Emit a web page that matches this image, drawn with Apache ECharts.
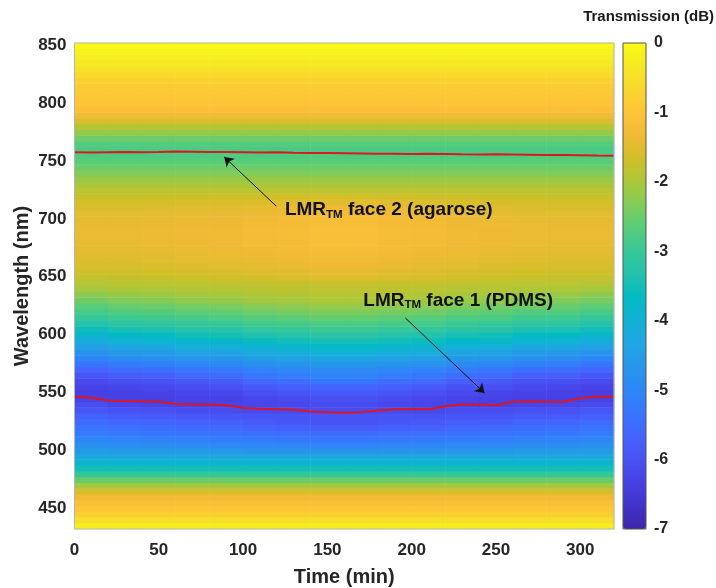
<!DOCTYPE html>
<html>
<head>
<meta charset="utf-8">
<script src="https://cdn.jsdelivr.net/npm/echarts@6/dist/echarts.min.js"></script>
<style>html,body{margin:0;padding:0;background:#fff;}#c{width:716px;height:588px;}</style>
</head>
<body>
<div id="c"></div>
<script>
// ---- data ----
const timeCols = [10, 30, 50, 70, 90, 110, 130, 150, 170, 190, 210, 230, 250, 270, 290, 310];
const wavelengthRows = [434.5,439.5,444.5,449.5,454.5,459.5,464.5,469.5,474.5,479.5,
484.5,489.5,494.5,499.5,504.5,509.5,514.5,519.5,524.5,529.5,
534.5,539.5,544.5,549.5,554.5,559.5,564.5,569.5,574.5,579.5,
584.5,589.5,594.5,599.5,604.5,609.5,614.5,619.5,624.5,629.5,
634.5,639.5,644.5,649.5,654.5,659.5,664.5,669.5,674.5,679.5,
684.5,689.5,694.5,699.5,704.5,709.5,714.5,719.5,724.5,729.5,
734.5,739.5,744.5,749.5,754.5,759.5,764.5,769.5,774.5,779.5,
784.5,789.5,794.5,799.5,804.5,809.5,814.5,819.5,824.5,829.5,
834.5,839.5,844.5,849.5];
// transmission (dB), rows 434.5–494.5 nm: same at every time
const transmissionLowBand = [-0.25,-0.5,-0.75,-0.95,-1.1,-1.3,-1.6,-2.05,-2.55,-3.05,-3.5,-3.9,-4.25];
// transmission (dB), rows 499.5–719.5 nm: one value per time column
const transmissionMidBand = [
[-4.55,-4.59,-4.6,-4.63,-4.65,-4.69,-4.71,-4.73,-4.73,-4.71,-4.69,-4.66,-4.64,-4.6,-4.6,-4.56],
[-4.8,-4.85,-4.87,-4.91,-4.93,-4.98,-5.01,-5.04,-5.04,-5.01,-4.99,-4.94,-4.92,-4.87,-4.86,-4.81],
[-5.0,-5.07,-5.1,-5.15,-5.18,-5.24,-5.27,-5.3,-5.3,-5.27,-5.25,-5.2,-5.17,-5.1,-5.08,-5.01],
[-5.2,-5.26,-5.29,-5.34,-5.37,-5.43,-5.47,-5.51,-5.51,-5.47,-5.44,-5.38,-5.35,-5.29,-5.28,-5.21],
[-5.35,-5.43,-5.46,-5.52,-5.56,-5.66,-5.72,-5.78,-5.78,-5.72,-5.68,-5.58,-5.54,-5.46,-5.44,-5.37],
[-5.5,-5.6,-5.64,-5.72,-5.76,-5.86,-5.92,-5.98,-5.98,-5.92,-5.88,-5.78,-5.74,-5.64,-5.62,-5.52],
[-5.7,-5.8,-5.84,-5.89,-5.91,-5.96,-5.97,-5.98,-5.98,-5.97,-5.98,-5.92,-5.91,-5.84,-5.82,-5.72],
[-5.9,-6.0,-6.04,-6.09,-6.11,-6.16,-6.15,-6.12,-6.12,-6.15,-6.18,-6.12,-6.11,-6.04,-6.02,-5.92],
[-6.1,-6.2,-6.24,-6.28,-6.27,-6.24,-6.2,-6.13,-6.13,-6.2,-6.25,-6.26,-6.28,-6.24,-6.22,-6.12],
[-6.3,-6.33,-6.34,-6.32,-6.29,-6.21,-6.14,-6.04,-6.04,-6.14,-6.21,-6.27,-6.31,-6.34,-6.33,-6.31],
[-6.35,-6.33,-6.32,-6.26,-6.21,-6.08,-5.98,-5.87,-5.87,-5.98,-6.07,-6.18,-6.24,-6.32,-6.32,-6.35],
[-6.3,-6.23,-6.2,-6.1,-6.04,-5.89,-5.77,-5.63,-5.63,-5.77,-5.87,-6.01,-6.08,-6.2,-6.21,-6.29],
[-6.15,-6.05,-6.01,-5.89,-5.81,-5.61,-5.47,-5.33,-5.33,-5.47,-5.58,-5.77,-5.86,-6.01,-6.03,-6.13],
[-5.95,-5.8,-5.74,-5.59,-5.51,-5.31,-5.17,-5.03,-5.03,-5.17,-5.28,-5.47,-5.56,-5.74,-5.77,-5.92],
[-5.65,-5.5,-5.44,-5.32,-5.26,-5.11,-5.02,-4.93,-4.93,-5.02,-5.08,-5.23,-5.29,-5.44,-5.47,-5.62],
[-5.35,-5.2,-5.14,-5.02,-4.96,-4.81,-4.72,-4.63,-4.63,-4.72,-4.78,-4.93,-4.99,-5.14,-5.17,-5.32],
[-5.05,-4.9,-4.84,-4.72,-4.66,-4.51,-4.42,-4.33,-4.33,-4.42,-4.48,-4.63,-4.69,-4.84,-4.87,-5.02],
[-4.75,-4.6,-4.54,-4.42,-4.36,-4.21,-4.12,-4.03,-4.03,-4.12,-4.18,-4.33,-4.39,-4.54,-4.57,-4.72],
[-4.45,-4.3,-4.24,-4.12,-4.06,-3.91,-3.82,-3.73,-3.73,-3.82,-3.88,-4.03,-4.09,-4.24,-4.27,-4.42],
[-4.15,-4.0,-3.94,-3.82,-3.76,-3.61,-3.53,-3.45,-3.45,-3.53,-3.58,-3.73,-3.79,-3.94,-3.97,-4.12],
[-3.85,-3.7,-3.64,-3.53,-3.48,-3.35,-3.28,-3.2,-3.2,-3.28,-3.33,-3.45,-3.5,-3.64,-3.67,-3.82],
[-3.55,-3.43,-3.38,-3.28,-3.23,-3.1,-3.03,-2.97,-2.97,-3.03,-3.08,-3.2,-3.25,-3.38,-3.4,-3.53],
[-3.3,-3.18,-3.13,-3.03,-2.99,-2.89,-2.83,-2.77,-2.77,-2.83,-2.87,-2.97,-3.01,-3.13,-3.15,-3.28],
[-3.05,-2.95,-2.91,-2.83,-2.79,-2.69,-2.63,-2.57,-2.57,-2.63,-2.67,-2.77,-2.81,-2.91,-2.93,-3.03],
[-2.85,-2.75,-2.71,-2.63,-2.59,-2.49,-2.43,-2.37,-2.37,-2.43,-2.47,-2.57,-2.61,-2.71,-2.73,-2.83],
[-2.65,-2.55,-2.51,-2.43,-2.39,-2.29,-2.23,-2.17,-2.17,-2.23,-2.27,-2.37,-2.41,-2.51,-2.53,-2.63],
[-2.45,-2.35,-2.31,-2.23,-2.19,-2.09,-2.04,-1.99,-1.99,-2.04,-2.07,-2.17,-2.21,-2.31,-2.33,-2.43],
[-2.25,-2.16,-2.13,-2.06,-2.03,-1.97,-1.93,-1.9,-1.9,-1.93,-1.96,-2.02,-2.05,-2.13,-2.15,-2.23],
[-2.05,-2.0,-1.98,-1.93,-1.91,-1.87,-1.84,-1.82,-1.82,-1.84,-1.86,-1.9,-1.92,-1.98,-1.99,-2.04],
[-1.9,-1.87,-1.86,-1.83,-1.82,-1.79,-1.77,-1.76,-1.76,-1.77,-1.79,-1.82,-1.83,-1.86,-1.86,-1.89],
[-1.78,-1.77,-1.74,-1.7,-1.66,-1.61,-1.56,-1.51,-1.51,-1.56,-1.6,-1.66,-1.7,-1.74,-1.76,-1.78],
[-1.68,-1.68,-1.65,-1.62,-1.58,-1.53,-1.48,-1.43,-1.43,-1.48,-1.53,-1.58,-1.63,-1.66,-1.68,-1.68],
[-1.6,-1.6,-1.57,-1.54,-1.5,-1.45,-1.4,-1.35,-1.35,-1.4,-1.45,-1.5,-1.55,-1.58,-1.6,-1.6],
[-1.53,-1.53,-1.5,-1.47,-1.43,-1.38,-1.33,-1.28,-1.28,-1.33,-1.38,-1.43,-1.48,-1.51,-1.53,-1.53],
[-1.48,-1.48,-1.45,-1.42,-1.38,-1.33,-1.28,-1.23,-1.23,-1.28,-1.33,-1.38,-1.43,-1.46,-1.48,-1.48],
[-1.45,-1.45,-1.42,-1.39,-1.35,-1.3,-1.25,-1.2,-1.2,-1.25,-1.3,-1.35,-1.4,-1.43,-1.45,-1.45],
[-1.42,-1.42,-1.39,-1.36,-1.32,-1.27,-1.22,-1.17,-1.17,-1.22,-1.27,-1.32,-1.37,-1.4,-1.42,-1.42],
[-1.4,-1.4,-1.37,-1.34,-1.3,-1.25,-1.2,-1.15,-1.15,-1.2,-1.25,-1.3,-1.35,-1.38,-1.4,-1.4],
[-1.4,-1.4,-1.37,-1.34,-1.3,-1.25,-1.2,-1.15,-1.15,-1.2,-1.25,-1.3,-1.35,-1.38,-1.4,-1.4],
[-1.42,-1.42,-1.39,-1.36,-1.32,-1.27,-1.22,-1.17,-1.17,-1.22,-1.27,-1.32,-1.37,-1.4,-1.42,-1.42],
[-1.45,-1.45,-1.42,-1.39,-1.35,-1.3,-1.25,-1.2,-1.2,-1.25,-1.3,-1.35,-1.4,-1.43,-1.45,-1.45],
[-1.5,-1.5,-1.47,-1.45,-1.41,-1.36,-1.32,-1.27,-1.27,-1.32,-1.36,-1.41,-1.45,-1.48,-1.5,-1.5],
[-1.56,-1.56,-1.54,-1.51,-1.48,-1.44,-1.4,-1.36,-1.36,-1.4,-1.44,-1.48,-1.52,-1.54,-1.56,-1.56],
[-1.64,-1.64,-1.62,-1.6,-1.58,-1.55,-1.52,-1.49,-1.49,-1.52,-1.55,-1.58,-1.61,-1.63,-1.64,-1.64],
[-1.74,-1.74,-1.73,-1.72,-1.7,-1.68,-1.66,-1.64,-1.64,-1.66,-1.68,-1.7,-1.72,-1.73,-1.74,-1.74]
];
// transmission (dB), rows 724.5–849.5 nm: same at every time
const transmissionHighBand = [-1.86,-2.0,-2.17,-2.33,-2.5,-2.65,-2.75,-2.8,-2.7,-2.5,-2.2,-1.9,-1.6,-1.3,-1.1,-1.0,-0.95,-0.9,-0.85,-0.75,-0.6,-0.45,-0.35,-0.25,-0.15,-0.05];
const lineTimes = [0,10,20,30,40,50,60,70,80,90,100,110,120,130,140,150,160,170,180,190,200,210,220,230,240,250,260,270,280,290,300,310,320];
const face2Wavelength = [757.5,757.4,757.6,757.8,757.6,757.8,758.2,758,757.8,757.7,757.6,757.4,757.5,757.2,757,757,756.8,756.6,756.3,756.2,756,756.2,756,755.8,755.7,755.8,755.6,755.4,755.2,755.2,755,754.7,754.5];
const face1Wavelength = [546.5,545.5,543,542.5,542.5,542,540,539.5,539.5,539,536.5,536,535.5,535,533.5,533,532.5,533,534.5,535.5,535.5,535.5,538,539.5,539.5,539,542,542.5,542,542,545,546.5,546];
const timeTicks = [0, 50, 100, 150, 200, 250, 300];
const wavelengthTicks = [450, 500, 550, 600, 650, 700, 750, 800, 850];
const colorRange = [-7, 0];
// annotation anchors (data units)
const arrowFace2 = [[119.7, 711], [88.8, 753.5]];
const arrowFace1 = [[196.3, 614.3], [243.2, 549.5]];
const labelFace2 = [124.5, 707.5];
const labelFace1 = [171, 629.5];

const parula = ['#3e26a8','#4332cb','#4741e5','#4852f4','#4563fd','#3875fe','#2e87f7','#2796eb','#20a5e3','#12b1d6','#02bac3','#24c1ae','#37c897','#57cc7a','#81cc59','#abc739','#d1bf27','#f0ba36','#fec338','#fad62d','#f5e924','#f9fb15'];

const FONT = '"Liberation Sans", Arial, sans-serif';
const nLow = transmissionLowBand.length, nMid = transmissionMidBand.length;
const heatData = [];
for (let i = 0; i < wavelengthRows.length; i++) {
  for (let j = 0; j < timeCols.length; j++) {
    let v;
    if (i < nLow) v = transmissionLowBand[i];
    else if (i < nLow + nMid) v = transmissionMidBand[i - nLow][j];
    else v = transmissionHighBand[i - nLow - nMid];
    heatData.push([j, i, v]);
  }
}
const pairs = (xs, ys) => xs.map((x, k) => [x, ys[k]]);
const richText = {
  m: {fontFamily: FONT, fontSize: 19, fontWeight: 'bold', color: '#111'},
  s: {fontFamily: FONT, fontSize: 11.5, fontWeight: 'bold', color: '#111', padding: [9, 0, 0, 0]}
};
function annot(arrow, pos, txt) {
  return {
    markLine: {
      silent: true, symbol: ['none', 'arrow'], symbolSize: 9,
      lineStyle: {color: '#111', width: 1, type: 'solid'},
      label: {show: false},
      data: [[{coord: arrow[0]}, {coord: arrow[1]}]]
    },
    markPoint: {
      silent: true, symbol: 'circle', symbolSize: 1,
      itemStyle: {color: 'rgba(0,0,0,0)'},
      label: {show: true, position: 'right', distance: 0, formatter: '{m|LMR}{s|TM}{m| ' + txt + '}', rich: richText},
      data: [{coord: pos}]
    }
  };
}

const labelStyle = {fontFamily: FONT, fontSize: 17, fontWeight: 'bold', color: '#262626'};
const nameStyle = {fontFamily: FONT, fontSize: 20, fontWeight: 'bold', color: '#262626'};

const chart = echarts.init(document.getElementById('c'), null, {renderer: 'canvas'});
chart.setOption({
  animation: false,
  backgroundColor: '#ffffff',
  textStyle: {fontFamily: FONT},
  title: {text: 'Transmission (dB)', right: 2, top: 9, padding: 0, textStyle: {fontFamily: FONT, fontSize: 15, fontWeight: 'bold', color: '#1a1a1a'}},
  grid: [
    {left: 74.5, top: 43, width: 539.5, height: 486, outerBoundsMode: 'none', containLabel: false, show: true, z: 10, borderColor: '#b5b5b5', borderWidth: 1, backgroundColor: 'rgba(0,0,0,0)'},
    {left: 623, top: 43, width: 23, height: 486, outerBoundsMode: 'none', containLabel: false, show: true, z: 10, borderColor: '#555', borderWidth: 1, backgroundColor: 'rgba(0,0,0,0)'}
  ],
  xAxis: [
    {type: 'category', gridIndex: 0, data: timeCols, show: false},
    {type: 'value', gridIndex: 0, position: 'bottom', min: 0, max: 320,
     axisLine: {show: false}, axisTick: {show: false}, splitLine: {show: false},
     axisLabel: Object.assign({customValues: timeTicks, margin: 13}, labelStyle),
     name: 'Time (min)', nameLocation: 'middle', nameGap: 38, nameMoveOverlap: false, nameTextStyle: nameStyle},
    {type: 'value', gridIndex: 1, show: false, min: 0, max: 1}
  ],
  yAxis: [
    {type: 'category', gridIndex: 0, data: wavelengthRows, show: false},
    {type: 'value', gridIndex: 0, position: 'left', min: 432, max: 852,
     axisLine: {show: false}, axisTick: {show: false}, splitLine: {show: false},
     axisLabel: Object.assign({customValues: wavelengthTicks, margin: 8}, labelStyle),
     name: 'Wavelength (nm)', nameLocation: 'middle', nameGap: 42, nameMoveOverlap: false, nameTextStyle: nameStyle},
    {type: 'value', gridIndex: 1, position: 'right', min: colorRange[0], max: colorRange[1], interval: 1, z: 10,
     axisLine: {show: false}, splitLine: {show: false},
     axisTick: {show: false},
     axisLabel: Object.assign({margin: 8}, labelStyle, {fontSize: 16})}
  ],
  visualMap: {
    type: 'continuous', min: colorRange[0], max: colorRange[1], seriesIndex: 0, z: 2,
    calculable: false, hoverLink: false, show: true, orient: 'vertical',
    left: 623, top: 43, itemWidth: 23, itemHeight: 486, padding: 0, text: ['', ''], textGap: 0,
    inRange: {color: parula}
  },
  series: [
    {type: 'heatmap', xAxisIndex: 0, yAxisIndex: 0, data: heatData, itemStyle: {borderWidth: 0}, emphasis: {disabled: true}, progressive: 0},
    Object.assign({type: 'line', name: 'face 2', xAxisIndex: 1, yAxisIndex: 1, data: pairs(lineTimes, face2Wavelength),
      showSymbol: false, symbol: 'none', lineStyle: {color: '#e0161d', width: 2}, z: 5, silent: true},
      annot(arrowFace2, labelFace2, 'face 2 (agarose)')),
    Object.assign({type: 'line', name: 'face 1', xAxisIndex: 1, yAxisIndex: 1, data: pairs(lineTimes, face1Wavelength),
      showSymbol: false, symbol: 'none', lineStyle: {color: '#e0161d', width: 2}, z: 5, silent: true},
      annot(arrowFace1, labelFace1, 'face 1 (PDMS)'))
  ]
});
</script>
</body>
</html>
